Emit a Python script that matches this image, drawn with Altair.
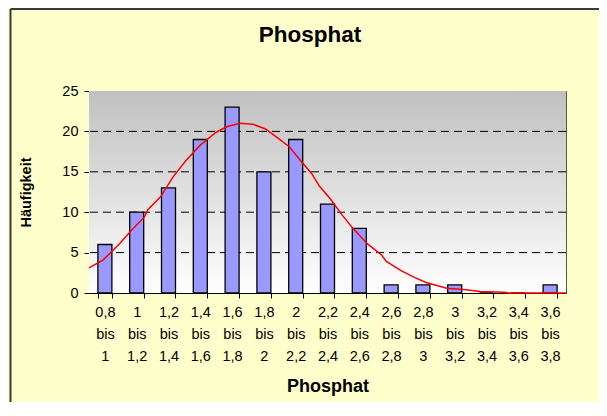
import altair as alt
import pandas as pd

# ---- data ----
title_text = "Phosphat"
x_title = "Phosphat"
y_title = "Häufigkeit"
bin_low = ["0,8", "1", "1,2", "1,4", "1,6", "1,8", "2", "2,2", "2,4", "2,6", "2,8", "3", "3,2", "3,4", "3,6"]
bin_high = ["1", "1,2", "1,4", "1,6", "1,8", "2", "2,2", "2,4", "2,6", "2,8", "3", "3,2", "3,4", "3,6", "3,8"]
counts = [6, 10, 13, 19, 23, 15, 19, 11, 8, 1, 1, 1, 0, 0, 1]

curve_x = [0.80, 0.89, 0.995, 1.06, 1.15, 1.17, 1.25, 1.33, 1.41, 1.50, 1.60, 1.67, 1.75, 1.83,
           1.91, 1.98, 2.06, 2.13, 2.20, 2.25, 2.32, 2.39, 2.46, 2.55, 2.64, 2.67, 2.76, 2.84,
           2.92, 3.05, 3.17, 3.26, 3.41, 3.44, 3.80]
curve_y = [3.1, 4.1, 6.15, 7.6, 9.45, 10.3, 11.9, 14.4, 16.4, 18.3, 19.9, 20.6, 21.0, 20.9,
           20.3, 19.3, 18.1, 16.4, 14.8, 13.2, 11.6, 9.7, 8.0, 6.1, 4.7, 3.9, 2.8, 2.0,
           1.3, 0.6, 0.4, 0.2, 0.1, 0.0, 0.0]

grid_values = [5, 10, 15, 20]
y_ticks = [0, 5, 10, 15, 20, 25]

W, H = 477, 202
PAD = {"left": 81, "top": 83, "right": 33, "bottom": 109}
FONT = "Liberation Sans"

cats = [f"{a}|bis|{b}" for a, b in zip(bin_low, bin_high)]
bars_df = pd.DataFrame({"cat": cats, "count": counts})
curve_df = pd.DataFrame({"px": curve_x, "val": curve_y})
grid_df = pd.DataFrame({"g": grid_values})

yscale = alt.Scale(domain=[0, 25], nice=False)

background = alt.Chart(alt.Data(values=[{}])).mark_rect(
    color=alt.LinearGradient(
        gradient="linear", x1=0, y1=0, x2=0, y2=1,
        stops=[alt.GradientStop(offset=0, color="#C0C0C0"),
               alt.GradientStop(offset=1, color="#FFFFFF")]
    )
).encode(x=alt.value(0), x2=alt.value(W), y=alt.value(0), y2=alt.value(H))

left_border = alt.Chart(alt.Data(values=[{}])).mark_rule(
    color="#3a3a3a", strokeWidth=2
).encode(x=alt.value(-PAD["left"] + 2.5), y=alt.value(-PAD["top"] + 1),
         y2=alt.value(H + PAD["bottom"]))

top_border = alt.Chart(alt.Data(values=[{}])).mark_rule(
    color="#3a3a3a", strokeWidth=2
).encode(y=alt.value(-PAD["top"] + 1), x=alt.value(-PAD["left"] + 2.5),
         x2=alt.value(W + PAD["right"]))

title = alt.Chart(alt.Data(values=[{"t": title_text}])).mark_text(
    font=FONT, fontSize=22.5, fontWeight="bold", color="#000000",
    align="center", baseline="alphabetic"
).encode(text="t:N", x=alt.value(W / 2 - 17.5), y=alt.value(-49))

grid = alt.Chart(grid_df).mark_rule(
    color="#000000", strokeDash=[8, 5], strokeWidth=1
).encode(y=alt.Y("g:Q", scale=yscale))

bars = alt.Chart(bars_df).mark_bar(
    color="#9999FF", stroke="#000000", strokeWidth=1.3
).encode(
    x=alt.X("cat:N", sort=None, title=x_title,
            scale=alt.Scale(paddingInner=0.56, paddingOuter=0.28),
            axis=alt.Axis(tickBand="extent", labelExpr="split(datum.label, '|')",
                          labelAngle=0, labelAlign="center", labelBaseline="top",
                          labelLineHeight=22, labelPadding=7, labelOverlap=False,
                          labelFontSize=14.5, labelFont=FONT, labelColor="#000000",
                          tickSize=5, tickColor="#000000", domainColor="#000000",
                          titleFontSize=18, titleFont=FONT, titleFontWeight="bold",
                          titleY=98, titleBaseline="alphabetic", titleColor="#000000")),
    y=alt.Y("count:Q", scale=yscale, title=y_title,
            axis=alt.Axis(values=y_ticks, grid=False, tickSize=5, tickColor="#000000",
                          domainColor="#000000", labelFontSize=14.5, labelFont=FONT,
                          labelColor="#000000", labelPadding=6,
                          titleFontSize=14.5, titleFont=FONT, titleFontWeight="bold",
                          titleColor="#000000", titleAngle=-90, titleX=-63, titleY=H / 2,
                          titleBaseline="middle", titleAlign="center")),
)

curve = alt.Chart(curve_df).mark_line(color="#FF0000", strokeWidth=1.5).encode(
    x=alt.X("px:Q", scale=alt.Scale(domain=[0.8, 3.8], nice=False, zero=False), axis=None),
    y=alt.Y("val:Q", scale=yscale),
)

chart = alt.layer(background, grid, bars, curve, left_border, top_border, title).resolve_scale(
    x="independent"
).properties(
    width=W, height=H,
    padding=PAD,
    autosize=alt.AutoSizeParams(type="none"),
    background="#FFFFCC",
).configure_view(stroke="#555555", strokeWidth=1)

chart.save("out.html", embed_options={"renderer": "svg", "actions": False})
